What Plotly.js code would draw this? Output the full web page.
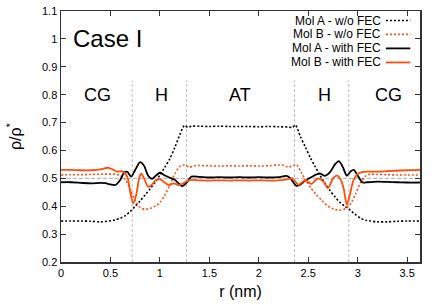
<!DOCTYPE html>
<html>
<head>
<meta charset="utf-8">
<script src="https://cdn.plot.ly/plotly-3.0.1.min.js"></script>
<style>html,body{margin:0;padding:0;background:#fff;}#chart{width:436px;height:305px;}</style>
</head>
<body>
<div id="chart"></div>
<script>
// Mol A - w/o FEC (black dotted)
const xAwo = [0,0.1,0.2,0.3,0.4,0.5,0.55,0.6,0.65,0.7,0.75,0.8,0.85,0.9,0.95,1.0,1.05,1.1,1.15,1.2,1.25,1.28,1.32,1.4,1.5,1.6,1.7,1.8,1.9,2.0,2.1,2.2,2.3,2.34,2.37,2.42,2.47,2.52,2.57,2.62,2.67,2.72,2.77,2.82,2.87,2.92,2.97,3.03,3.08,3.13,3.2,3.3,3.4,3.5,3.63];
const yAwo = [0.347,0.347,0.347,0.346,0.344,0.348,0.351,0.357,0.366,0.381,0.400,0.419,0.440,0.462,0.485,0.512,0.540,0.570,0.610,0.655,0.690,0.683,0.687,0.687,0.686,0.687,0.686,0.686,0.686,0.685,0.686,0.685,0.684,0.682,0.691,0.650,0.613,0.575,0.542,0.510,0.482,0.456,0.434,0.414,0.400,0.388,0.372,0.357,0.350,0.347,0.344,0.344,0.346,0.347,0.347];

// Mol B - w/o FEC (orange dotted)
const xBwo = [0,0.1,0.2,0.3,0.4,0.5,0.55,0.6,0.65,0.7,0.75,0.8,0.85,0.9,0.95,1.0,1.05,1.1,1.15,1.2,1.25,1.3,1.35,1.4,1.5,1.6,1.7,1.8,1.9,2.0,2.1,2.2,2.25,2.3,2.35,2.38,2.43,2.48,2.53,2.58,2.64,2.7,2.76,2.82,2.88,2.93,2.98,3.03,3.08,3.13,3.2,3.3,3.4,3.5,3.63];
const yBwo = [0.512,0.513,0.513,0.514,0.515,0.515,0.515,0.510,0.496,0.460,0.420,0.396,0.389,0.392,0.400,0.413,0.440,0.475,0.515,0.542,0.548,0.540,0.545,0.546,0.545,0.544,0.545,0.544,0.545,0.544,0.545,0.548,0.547,0.540,0.546,0.549,0.520,0.490,0.464,0.442,0.420,0.400,0.390,0.386,0.392,0.410,0.445,0.485,0.508,0.515,0.514,0.513,0.512,0.512,0.512];

// Mol A - with FEC (black solid)
const xAw = [0,0.1,0.2,0.3,0.4,0.45,0.5,0.55,0.6,0.64,0.67,0.71,0.75,0.8,0.84,0.88,0.92,0.96,1.0,1.04,1.1,1.15,1.2,1.23,1.27,1.32,1.4,1.5,1.6,1.7,1.8,1.9,2.0,2.1,2.2,2.28,2.32,2.38,2.42,2.47,2.52,2.57,2.62,2.67,2.72,2.77,2.81,2.85,2.89,2.93,2.96,3.0,3.05,3.1,3.2,3.3,3.4,3.5,3.63];
const yAw = [0.486,0.486,0.484,0.482,0.484,0.483,0.478,0.476,0.495,0.522,0.523,0.506,0.530,0.558,0.545,0.510,0.498,0.510,0.520,0.512,0.502,0.495,0.478,0.472,0.485,0.506,0.505,0.503,0.504,0.503,0.504,0.503,0.504,0.503,0.504,0.509,0.500,0.473,0.478,0.492,0.502,0.512,0.517,0.509,0.522,0.550,0.562,0.540,0.510,0.525,0.530,0.510,0.485,0.486,0.488,0.487,0.486,0.485,0.485];

// Mol B - with FEC (orange solid)
const xBw = [0,0.1,0.2,0.3,0.4,0.47,0.52,0.57,0.62,0.67,0.7,0.73,0.76,0.79,0.81,0.84,0.88,0.91,0.96,1.0,1.04,1.09,1.14,1.19,1.25,1.3,1.4,1.5,1.6,1.7,1.8,1.9,2.0,2.1,2.2,2.3,2.34,2.4,2.47,2.53,2.6,2.65,2.7,2.75,2.79,2.83,2.86,2.89,2.92,2.96,3.01,3.1,3.2,3.3,3.43,3.63];
const yBw = [0.530,0.530,0.529,0.529,0.532,0.538,0.532,0.524,0.525,0.505,0.450,0.410,0.440,0.500,0.517,0.500,0.470,0.474,0.494,0.497,0.487,0.476,0.482,0.476,0.485,0.494,0.493,0.492,0.493,0.492,0.493,0.492,0.493,0.492,0.493,0.497,0.500,0.477,0.494,0.480,0.500,0.490,0.465,0.500,0.510,0.495,0.460,0.405,0.440,0.495,0.518,0.524,0.524,0.526,0.528,0.530];

const seriesNames = ["Mol A - w/o FEC","Mol B - w/o FEC","Mol A - with FEC","Mol B - with FEC"];
const regionLabels = ["CG","H","AT","H","CG"];
const regionCenters = [0.37,1.02,1.81,2.66,3.31];
const boundaries = [0.72,1.27,2.36,2.91];
const yTickVals = [0.2,0.3,0.4,0.5,0.6,0.7,0.8,0.9,1,1.1];
const xTickVals = [0,0.5,1,1.5,2,2.5,3,3.5];

const BLACK = '#000000';
const ORANGE = '#ff4d0a';
const styles = [
  {color: BLACK, width: 1.6, dash: '2px,2px'},
  {color: ORANGE, width: 1.6, dash: '2px,2px'},
  {color: BLACK, width: 1.8, dash: 'solid'},
  {color: ORANGE, width: 1.8, dash: 'solid'}
];
const xs = [xAwo, xBwo, xAw, xBw];
const ys = [yAwo, yBwo, yAw, yBw];

const traces = xs.map((x, i) => ({
  x: x, y: ys[i], type: 'scatter', mode: 'lines', name: seriesNames[i],
  line: {color: styles[i].color, width: styles[i].width, dash: styles[i].dash, shape: 'spline', smoothing: 0.8},
  showlegend: false, hoverinfo: 'skip'
}));

const FONT = 'Liberation Sans, Arial, Helvetica, sans-serif';
const shapes = [];
const annotations = [];

// reference line at 0.5
shapes.push({type: 'line', xref: 'paper', yref: 'y', x0: 0, x1: 1, y0: 0.5, y1: 0.5,
  line: {color: '#aaaaaa', width: 1, dash: '4px,2px'}, layer: 'below'});
// region boundaries
boundaries.forEach(b => shapes.push({type: 'line', xref: 'x', yref: 'y', x0: b, x1: b, y0: 0.2, y1: 0.85,
  line: {color: '#bbbbbb', width: 1, dash: '3px,2px'}, layer: 'below'}));

regionLabels.forEach((t, i) => annotations.push({x: regionCenters[i], y: 0.8, xref: 'x', yref: 'y', text: t,
  showarrow: false, font: {family: FONT, size: 18, color: '#000'}}));

annotations.push({x: 0.1, y: 1.0, xref: 'x', yref: 'y', text: 'Case I', xanchor: 'left', showarrow: false,
  font: {family: FONT, size: 24, color: '#000'}});

// y-axis title as rotated annotation
annotations.push({x: -0.132, y: 0.5, xref: 'paper', yref: 'paper', text: 'ρ/ρ<sup>*</sup>', textangle: -90,
  xanchor: 'center', yanchor: 'middle', showarrow: false, font: {family: FONT, size: 16, color: '#000'}});

// custom legend (text right, sample on right)
const legY = [0.962, 0.907, 0.851, 0.795];
seriesNames.forEach((n, i) => {
  annotations.push({x: 0.893, y: legY[i], xref: 'paper', yref: 'paper', text: n, xanchor: 'right', yanchor: 'middle',
    showarrow: false, borderpad: 0, font: {family: FONT, size: 12, color: '#000'}});
  shapes.push({type: 'line', xref: 'paper', yref: 'paper', x0: 0.905, x1: 0.973, y0: legY[i], y1: legY[i],
    line: {color: styles[i].color, width: styles[i].width, dash: styles[i].dash}});
});

const layout = {
  width: 436, height: 305,
  margin: {l: 61, r: 16, t: 11, b: 43},
  paper_bgcolor: '#fff', plot_bgcolor: '#fff',
  font: {family: FONT, size: 11, color: '#000'},
  xaxis: {range: [0, 3.63], tickvals: xTickVals, ticks: 'inside', ticklen: 5, tickcolor: '#333',
    showline: true, linecolor: '#333', linewidth: 1.5, mirror: 'ticks', showgrid: false, zeroline: false,
    tickfont: {size: 11}, title: {text: 'r (nm)', font: {size: 16}, standoff: 8}},
  yaxis: {range: [0.2, 1.1], tickvals: yTickVals, ticks: 'inside', ticklen: 5, tickcolor: '#333',
    showline: true, linecolor: '#333', linewidth: 1.5, mirror: 'ticks', showgrid: false, zeroline: false,
    tickfont: {size: 11}},
  shapes: shapes, annotations: annotations, showlegend: false
};

Plotly.newPlot('chart', traces, layout, {displayModeBar: false, staticPlot: true});
</script>
</body>
</html>
